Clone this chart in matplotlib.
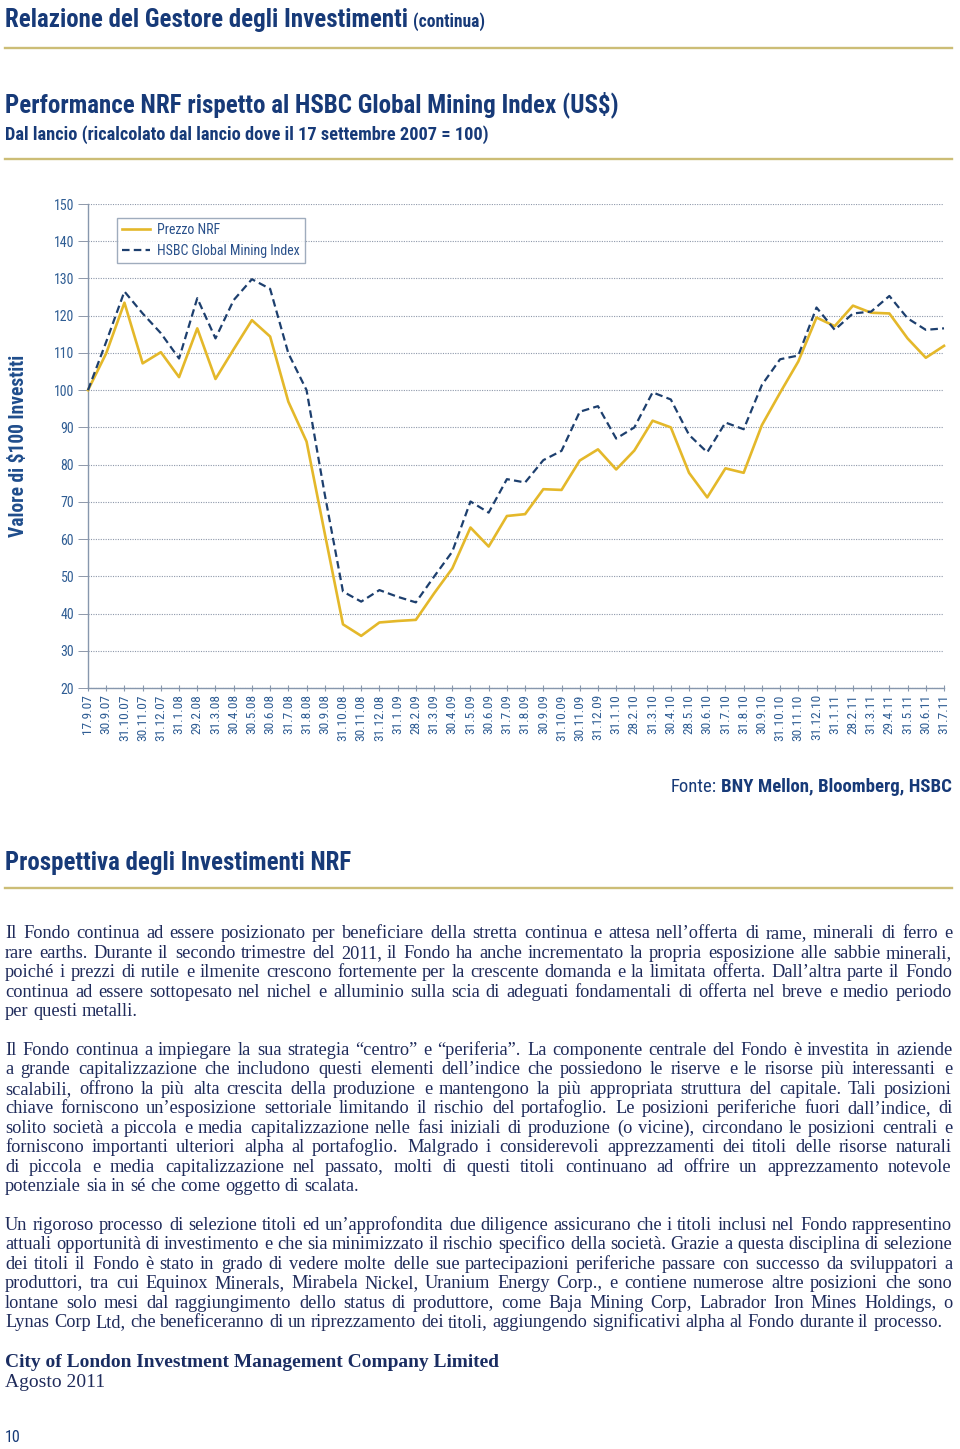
import matplotlib
matplotlib.use('Agg')
import matplotlib.pyplot as plt
from matplotlib import font_manager as fm
from matplotlib.lines import Line2D

W, H = 960, 1449

# ---------------- data ----------------
dates = ['17.9.07', '30.9.07', '31.10.07', '30.11.07', '31.12.07', '31.1.08', '29.2.08',
         '31.3.08', '30.4.08', '30.5.08', '30.6.08', '31.7.08', '31.8.08', '30.9.08',
         '31.10.08', '30.11.08', '31.12.08', '31.1.09', '28.2.09', '31.3.09', '30.4.09',
         '31.5.09', '30.6.09', '31.7.09', '31.8.09', '30.9.09', '31.10.09', '30.11.09',
         '31.12.09', '31.1.10', '28.2.10', '31.3.10', '30.4.10', '28.5.10', '30.6.10',
         '31.7.10', '31.8.10', '30.9.10', '31.10.10', '30.11.10', '31.12.10', '31.1.11',
         '28.2.11', '31.3.11', '29.4.11', '31.5.11', '30.6.11', '31.7.11']
nrf = [100.0, 109.9, 123.5, 107.2, 110.2, 103.5, 116.6, 103.0, 111.0, 118.8, 114.4, 96.9,
       86.2, 61.5, 37.1, 34.0, 37.6, 38.0, 38.3, 45.4, 52.1, 63.1, 58.0, 66.2, 66.7, 73.4,
       73.2, 81.1, 84.1, 78.7, 83.8, 91.8, 90.0, 77.8, 71.2, 79.0, 77.8, 90.6, 99.3, 107.7,
       119.5, 117.2, 122.7, 120.8, 120.6, 113.9, 108.7, 111.9]
hsbc = [100.0, 113.0, 126.5, 120.6, 115.3, 108.5, 124.7, 113.9, 124.2, 129.8, 127.2, 109.9,
        100.0, 72.0, 45.9, 43.2, 46.3, 44.5, 43.0, 49.9, 56.6, 70.1, 67.1, 76.1, 75.2, 81.2,
        83.7, 94.2, 95.7, 87.0, 90.0, 99.4, 97.5, 88.0, 83.3, 91.3, 89.5, 101.4, 108.3, 109.3,
        122.2, 116.2, 120.6, 121.1, 125.3, 119.3, 116.2, 116.6]
yticks = [20, 30, 40, 50, 60, 70, 80, 90, 100, 110, 120, 130, 140, 150]
series_names = ['Prezzo NRF', 'HSBC Global Mining Index']

title_main = 'Relazione del Gestore degli Investimenti'
title_cont = '(continua)'
chart_title = 'Performance NRF rispetto al HSBC Global Mining Index (US$)'
chart_sub = 'Dal lancio (ricalcolato dal lancio dove il 17 settembre 2007 = 100)'
y_label = 'Valore di $100 Investiti'
source_lbl = 'Fonte:'
source_txt = 'BNY Mellon, Bloomberg, HSBC'
heading2 = 'Prospettiva degli Investimenti NRF'

para1 = [
    "Il Fondo continua ad essere posizionato per beneficiare della stretta continua e attesa nell\u2019offerta di rame, minerali di ferro e",
    "rare earths. Durante il secondo trimestre del 2011, il Fondo ha anche incrementato la propria esposizione alle sabbie minerali,",
    "poich\u00e9 i prezzi di rutile e ilmenite crescono fortemente per la crescente domanda e la limitata offerta. Dall\u2019altra parte il Fondo",
    "continua ad essere sottopesato nel nichel e alluminio sulla scia di adeguati fondamentali di offerta nel breve e medio periodo",
    "per questi metalli.",
]
para2 = [
    "Il Fondo continua a impiegare la sua strategia \u201ccentro\u201d e \u201cperiferia\u201d. La componente centrale del Fondo \u00e8 investita in aziende",
    "a grande capitalizzazione che includono questi elementi dell\u2019indice che possiedono le riserve e le risorse pi\u00f9 interessanti e",
    "scalabili, offrono la pi\u00f9 alta crescita della produzione e mantengono la pi\u00f9 appropriata struttura del capitale. Tali posizioni",
    "chiave forniscono un\u2019esposizione settoriale limitando il rischio del portafoglio.  Le posizioni periferiche fuori dall\u2019indice, di",
    "solito societ\u00e0 a piccola e media capitalizzazione nelle fasi iniziali di produzione (o vicine), circondano le posizioni centrali e",
    "forniscono importanti ulteriori alpha al portafoglio.  Malgrado i considerevoli apprezzamenti dei titoli delle risorse naturali",
    "di piccola e media capitalizzazione nel passato, molti di questi titoli continuano ad offrire un apprezzamento notevole",
    "potenziale sia in s\u00e9 che come oggetto di scalata.",
]
para3 = [
    "Un rigoroso processo di selezione titoli ed un\u2019approfondita due diligence assicurano che i titoli inclusi nel Fondo rappresentino",
    "attuali opportunit\u00e0 di investimento e che sia minimizzato il rischio specifico della societ\u00e0. Grazie a questa disciplina di selezione",
    "dei titoli il Fondo \u00e8 stato in grado di vedere molte delle sue partecipazioni periferiche passare con successo da sviluppatori a",
    "produttori, tra cui Equinox Minerals, Mirabela Nickel, Uranium Energy Corp., e contiene numerose altre posizioni che sono",
    "lontane solo mesi dal raggiungimento dello status di produttore, come Baja Mining Corp, Labrador Iron Mines Holdings, o",
    "Lynas Corp Ltd, che beneficeranno di un riprezzamento dei titoli, aggiungendo significativi alpha al Fondo durante il processo.",
]
signature = 'City of London Investment Management Company Limited'
sig_date = 'Agosto 2011'
page_no = '10'

# ---------------- colours ----------------
TITLE_C = '#173a78'
BODY_C = '#1f2b5b'
GOLD = '#e4b82a'
NAVY_LINE = '#1d3f6e'
RULE_C = '#ccbd76'
TICK_C = '#2f5d94'
SPINE_C = '#8797ad'
GRID_C = '#8e98aa'
LEG_C = '#29508a'
YLAB_C = '#1f4d8c'


# ---------------- fonts ----------------
def find_path(name, stretch='normal', weight='normal'):
    try:
        return fm.findfont(fm.FontProperties(family=name, stretch=stretch, weight=weight),
                           fallback_to_default=False)
    except Exception:
        return None


NARROW, NARROW_ST = None, 'normal'
for fam in ['Liberation Sans Narrow', 'Roboto Condensed', 'Open Sans Condensed',
            'Noto Sans Condensed', 'DejaVu Sans Condensed']:
    if find_path(fam):
        NARROW = fam
        break
if NARROW is None:
    for fam in ['DejaVu Sans', 'Noto Sans', 'Open Sans', 'Roboto']:
        p = find_path(fam, stretch='condensed')
        if p and 'ondensed' in p:
            NARROW, NARROW_ST = fam, 'condensed'
            break
if NARROW is None:
    NARROW = 'Liberation Sans' if find_path('Liberation Sans') else 'DejaVu Sans'

SERIF = 'Liberation Serif' if find_path('Liberation Serif') else 'DejaVu Serif'


def fpn(size, weight='normal'):
    return fm.FontProperties(family=NARROW, stretch=NARROW_ST, weight=weight, size=size)


def fps(size, weight='normal'):
    return fm.FontProperties(family=SERIF, weight=weight, size=size)


fig = plt.figure(figsize=(W / 100, H / 100), dpi=100)
fig.patch.set_facecolor('white')
renderer = fig.canvas.get_renderer()


def tw(s, fp):
    w, h, d = renderer.get_text_width_height_descent(s, fp, ismath=False)
    return w


def fit(s, maker, target, weight='normal'):
    base = 20.0
    return base * target / tw(s, maker(base, weight))


def ftext(x, y, s, fp, color, ha='left', va='baseline', **kw):
    return fig.text(x / W, 1 - y / H, s, fontproperties=fp, color=color, ha=ha, va=va,
                    parse_math=False, **kw)


def rule(y):
    fig.add_artist(Line2D([5 / W, 952 / W], [1 - y / H, 1 - y / H], transform=fig.transFigure,
                          color=RULE_C, lw=1.7))


# ---------------- headings ----------------
s1 = fit(title_main, fpn, 400, 'bold')
f1 = fpn(s1, 'bold')
ftext(5, 27, title_main, f1, TITLE_C)
s1b = fit(title_cont, fpn, 71)
ftext(5 + tw(title_main, f1) + 5, 27, title_cont, fpn(s1b, 'bold'), TITLE_C)
rule(48)

s2 = fit(chart_title, fpn, 612, 'bold')
ftext(5, 112, chart_title, fpn(s2, 'bold'), TITLE_C)
s3 = fit(chart_sub, fpn, 484, 'bold')
ftext(5, 140, chart_sub, fpn(s3, 'bold'), TITLE_C)
rule(159)

# ---------------- chart ----------------
ax = fig.add_axes([88 / W, 1 - 688 / H, 856 / W, 484 / H])
x = list(range(len(dates)))
ax.plot(x, nrf, color=GOLD, lw=1.9, label=series_names[0], clip_on=False, zorder=3)
ax.plot(x, hsbc, color=NAVY_LINE, lw=1.6, ls=(0, (3.4, 1.9)), label=series_names[1],
        clip_on=False, zorder=4)
ax.set_xlim(0, len(dates) - 1)
ax.set_ylim(20, 150)
ax.set_yticks(yticks)
ax.set_xticks(x)

xt_size = fit('17.9.07', fpn, 40)
yt_size = fit('150', fpn, 20.5)
ax.set_xticklabels(dates, rotation=90, fontproperties=fpn(xt_size), color=TICK_C)
ax.set_yticklabels([str(v) for v in yticks], fontproperties=fpn(yt_size), color=TICK_C)
ax.grid(axis='y', ls=(0, (1, 1.2)), color=GRID_C, lw=0.8, zorder=1)
ax.grid(axis='x', visible=False)
for side in ['top', 'right']:
    ax.spines[side].set_visible(False)
for side in ['left', 'bottom']:
    ax.spines[side].set_color(SPINE_C)
    ax.spines[side].set_linewidth(1.0)
ax.tick_params(axis='x', direction='inout', length=5, width=0.8, color=SPINE_C, pad=2)
ax.tick_params(axis='y', direction='out', length=7, width=0.7, color=GRID_C, pad=3)

leg_size = fit(series_names[1], fpn, 143)
fs_px = leg_size * 100 / 72
leg = ax.legend(loc='upper left', bbox_to_anchor=((117 - 88) / 856, (688 - 218) / 484),
                borderaxespad=0, frameon=True, fancybox=False, prop=fpn(leg_size),
                handlelength=28 / fs_px, handletextpad=7 / fs_px, borderpad=0.35,
                labelspacing=max(0.1, (23 - fs_px * 1.15) / fs_px))
leg.get_frame().set_edgecolor(SPINE_C)
leg.get_frame().set_linewidth(1.0)
for t in leg.get_texts():
    t.set_color(LEG_C)

sy = fit(y_label, fpn, 182, 'bold')
ftext(19, 446, y_label, fpn(sy, 'bold'), YLAB_C, ha='center', va='center', rotation=90)

# ---------------- source ----------------
ss = fit(source_txt, fpn, 230, 'bold')
ftext(952, 792, source_txt, fpn(ss, 'bold'), TITLE_C, ha='right')
ftext(952 - tw(source_txt, fpn(ss, 'bold')) - 4, 792, source_lbl, fpn(ss), TITLE_C, ha='right')

# ---------------- second heading ----------------
sh = fit(heading2, fpn, 345, 'bold')
ftext(5, 870, heading2, fpn(sh, 'bold'), TITLE_C)
rule(888)

# ---------------- body text (justified, word by word) ----------------
X0, X1 = 5, 952
base = 12.0
fpb = fps(base)
space_b = tw('a a', fpb) - tw('aa', fpb)
nat = []
for para in (para1, para2, para3):
    for line in para[:-1]:
        words = line.split()
        nat.append(sum(tw(w, fpb) for w in words) + space_b * (len(words) - 1))
body_size = base * (X1 - X0 - 2) / max(nat)
fpb = fps(body_size)
space = tw('a a', fpb) - tw('aa', fpb)


def draw_para(lines, y0, step=19.45):
    for i, line in enumerate(lines):
        y = round(y0 + i * step)
        words = line.split()
        widths = [tw(w, fpb) for w in words]
        if i == len(lines) - 1 or len(words) == 1:
            gap = space
        else:
            gap = (X1 - X0 - sum(widths)) / (len(words) - 1)
        xx = X0
        for w, wd in zip(words, widths):
            ftext(round(xx), y, w, fpb, BODY_C)
            xx += wd + gap


draw_para(para1, 938.3)
draw_para(para2, 1055.0)
draw_para(para3, 1230.0)

sg = fit(signature, fps, 493, 'bold')
ftext(5, 1367, signature, fps(sg, 'bold'), '#1a2d62')
sd = fit(sig_date, fps, 99)
ftext(5, 1387, sig_date, fps(sd), BODY_C)

ftext(5, 1442, page_no, fpn(11.5), TITLE_C)

fig.savefig('out.png', dpi=100, facecolor='white')
